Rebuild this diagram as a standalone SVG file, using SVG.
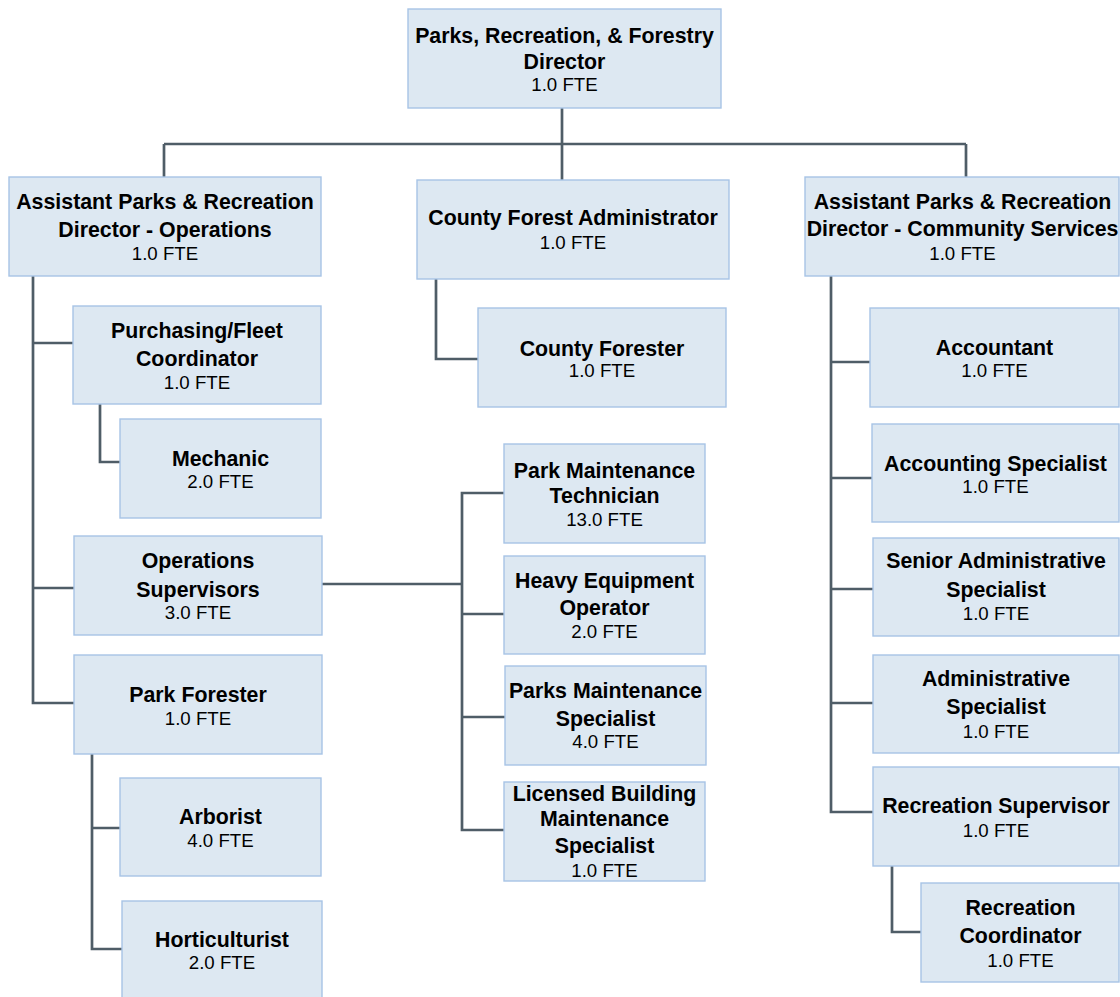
<svg xmlns="http://www.w3.org/2000/svg" width="1120" height="997" viewBox="0 0 1120 997">
<style>
.box{fill:#dde8f2;stroke:#a7c4e6;stroke-width:1.4}
.b{font-family:"Liberation Sans",Arial,sans-serif;font-weight:bold;font-size:21.33px;fill:#000;text-anchor:middle}
.r{font-family:"Liberation Sans",Arial,sans-serif;font-size:18.67px;fill:#000;text-anchor:middle}
.c{fill:none;stroke:#4f5d67;stroke-width:2.7}
</style>
<rect width="1120" height="997" fill="#fff"/>
<g id="connectors">
<path class="c" d="M562,108 V180 M164,144 H966 M164,144 V177 M966,144 V177"/>
<path class="c" d="M33,276 V703 H74 M33,343 H73 M33,588 H74"/>
<path class="c" d="M100,404 V462 H120"/>
<path class="c" d="M92,754 V949 H122 M92,828 H120"/>
<path class="c" d="M322,584 H462 M504,493 H462 V830 H504 M462,614 H504 M462,717 H505"/>
<path class="c" d="M436,279 V359 H478"/>
<path class="c" d="M831,276 V812 H873 M831,362 H870 M831,478 H872 M831,589 H873 M831,703 H873"/>
<path class="c" d="M892,866 V932 H921"/>
</g>
<g id="director">
<rect class="box" x="408" y="9" width="313" height="99"/>
<text class="b" x="564.5" y="43">Parks, Recreation, &amp; Forestry</text>
<text class="b" x="564.5" y="68.5">Director</text>
<text class="r" x="564.5" y="91">1.0 FTE</text>
</g>
<g id="asst-ops">
<rect class="box" x="9" y="177" width="312" height="99"/>
<text class="b" x="165" y="209">Assistant Parks &amp; Recreation</text>
<text class="b" x="165" y="236.5">Director - Operations</text>
<text class="r" x="165" y="260">1.0 FTE</text>
</g>
<g id="county-forest-admin">
<rect class="box" x="417" y="180" width="312" height="99"/>
<text class="b" x="573" y="225">County Forest Administrator</text>
<text class="r" x="573" y="248.7">1.0 FTE</text>
</g>
<g id="asst-community">
<rect class="box" x="805" y="177" width="314" height="99"/>
<text class="b" x="962.5" y="208.5">Assistant Parks &amp; Recreation</text>
<text class="b" x="962.5" y="236">Director - Community Services</text>
<text class="r" x="962.5" y="260">1.0 FTE</text>
</g>
<g id="purchasing">
<rect class="box" x="73" y="306" width="248" height="98"/>
<text class="b" x="197" y="338">Purchasing/Fleet</text>
<text class="b" x="197" y="366">Coordinator</text>
<text class="r" x="197" y="388.5">1.0 FTE</text>
</g>
<g id="mechanic">
<rect class="box" x="120" y="419" width="201" height="99"/>
<text class="b" x="220.5" y="466">Mechanic</text>
<text class="r" x="220.5" y="488">2.0 FTE</text>
</g>
<g id="ops-supervisors">
<rect class="box" x="74" y="536" width="248" height="99"/>
<text class="b" x="198" y="568">Operations</text>
<text class="b" x="198" y="596.5">Supervisors</text>
<text class="r" x="198" y="619">3.0 FTE</text>
</g>
<g id="park-forester">
<rect class="box" x="74" y="655" width="248" height="99"/>
<text class="b" x="198" y="701.5">Park Forester</text>
<text class="r" x="198" y="725">1.0 FTE</text>
</g>
<g id="arborist">
<rect class="box" x="120" y="778" width="201" height="98"/>
<text class="b" x="220.5" y="824">Arborist</text>
<text class="r" x="220.5" y="846.7">4.0 FTE</text>
</g>
<g id="horticulturist">
<rect class="box" x="122" y="901" width="200" height="110"/>
<text class="b" x="222" y="946.7">Horticulturist</text>
<text class="r" x="222" y="969.3">2.0 FTE</text>
</g>
<g id="county-forester">
<rect class="box" x="478" y="308" width="248" height="99"/>
<text class="b" x="602" y="355.5">County Forester</text>
<text class="r" x="602" y="377">1.0 FTE</text>
</g>
<g id="park-maint-tech">
<rect class="box" x="504" y="444" width="201" height="99"/>
<text class="b" x="604.5" y="477.7">Park Maintenance</text>
<text class="b" x="604.5" y="502.7">Technician</text>
<text class="r" x="604.5" y="526">13.0 FTE</text>
</g>
<g id="heavy-equipment">
<rect class="box" x="504" y="556" width="201" height="98"/>
<text class="b" x="604.5" y="587.7">Heavy Equipment</text>
<text class="b" x="604.5" y="615">Operator</text>
<text class="r" x="604.5" y="638.3">2.0 FTE</text>
</g>
<g id="parks-maint-specialist">
<rect class="box" x="505" y="666" width="201" height="99"/>
<text class="b" x="605.5" y="697.7">Parks Maintenance</text>
<text class="b" x="605.5" y="726">Specialist</text>
<text class="r" x="605.5" y="748.3">4.0 FTE</text>
</g>
<g id="licensed-building">
<rect class="box" x="504" y="782" width="201" height="99"/>
<text class="b" x="604.5" y="800.7">Licensed Building</text>
<text class="b" x="604.5" y="825.7">Maintenance</text>
<text class="b" x="604.5" y="853">Specialist</text>
<text class="r" x="604.5" y="876.7">1.0 FTE</text>
</g>
<g id="accountant">
<rect class="box" x="870" y="308" width="249" height="99"/>
<text class="b" x="994.5" y="355">Accountant</text>
<text class="r" x="994.5" y="376.7">1.0 FTE</text>
</g>
<g id="accounting-specialist">
<rect class="box" x="872" y="424" width="247" height="98"/>
<text class="b" x="995.5" y="470.7">Accounting Specialist</text>
<text class="r" x="995.5" y="493.3">1.0 FTE</text>
</g>
<g id="senior-admin">
<rect class="box" x="873" y="538" width="246" height="98"/>
<text class="b" x="996" y="568.3">Senior Administrative</text>
<text class="b" x="996" y="597.3">Specialist</text>
<text class="r" x="996" y="620">1.0 FTE</text>
</g>
<g id="admin-specialist">
<rect class="box" x="873" y="655" width="246" height="98"/>
<text class="b" x="996" y="686">Administrative</text>
<text class="b" x="996" y="714.3">Specialist</text>
<text class="r" x="996" y="738.3">1.0 FTE</text>
</g>
<g id="rec-supervisor">
<rect class="box" x="873" y="767" width="246" height="99"/>
<text class="b" x="996" y="813.3">Recreation Supervisor</text>
<text class="r" x="996" y="836.7">1.0 FTE</text>
</g>
<g id="rec-coordinator">
<rect class="box" x="921" y="883" width="198" height="99"/>
<text class="b" x="1020.5" y="915">Recreation</text>
<text class="b" x="1020.5" y="943.3">Coordinator</text>
<text class="r" x="1020.5" y="966.7">1.0 FTE</text>
</g>
</svg>
